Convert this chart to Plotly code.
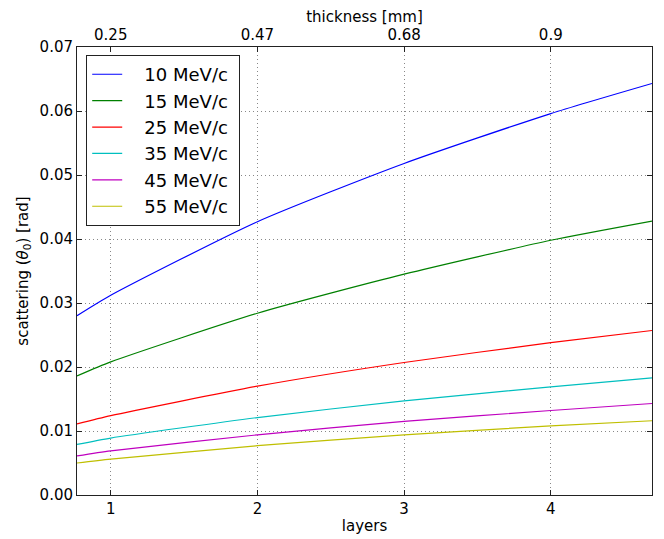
import plotly.graph_objects as go

layers = [0.77, 1.0, 2.0, 3.0, 4.0, 4.69]
momenta = ["10 MeV/c", "15 MeV/c", "25 MeV/c", "35 MeV/c", "45 MeV/c", "55 MeV/c"]
theta_10 = [0.0280, 0.0312, 0.0427, 0.0518, 0.0596, 0.0643]
theta_15 = [0.0186, 0.0208, 0.0284, 0.0345, 0.0398, 0.0428]
theta_25 = [0.0111, 0.0124, 0.0170, 0.0207, 0.0238, 0.0257]
theta_35 = [0.0079, 0.0089, 0.0121, 0.0147, 0.0169, 0.0183]
theta_45 = [0.0061, 0.0069, 0.0094, 0.0115, 0.0132, 0.0143]
theta_55 = [0.0050, 0.0056, 0.0077, 0.0094, 0.0108, 0.0116]
series = [theta_10, theta_15, theta_25, theta_35, theta_45, theta_55]
colors = ["#0000ff", "#008000", "#ff0000", "#00bfbf", "#bf00bf", "#bfbf00"]

top_tickvals = [1, 2, 3, 4]
top_ticktext = ["0.25", "0.47", "0.68", "0.9"]

FONT = "DejaVu Sans"
NB = "\u00a0"
fig = go.Figure()
for name, ys, c in zip(momenta, series, colors):
    fig.add_trace(go.Scatter(x=layers, y=ys, mode="lines", name=NB * 3 + name + NB,
                             line=dict(color=c, width=1.2, shape="spline", smoothing=0.6)))
# invisible trace to anchor the top axis
fig.add_trace(go.Scatter(x=layers, y=theta_10, xaxis="x2", mode="lines",
                         line=dict(width=0), showlegend=False, hoverinfo="skip", opacity=0))

axis_common = dict(showline=True, linecolor="#222", linewidth=1, ticks="inside",
                   ticklen=5, tickcolor="#222", automargin=False,
                   tickfont=dict(family=FONT, size=15, color="black"),
                   zeroline=False)
grid = dict(showgrid=True, gridcolor="#888", griddash="1px,3px", gridwidth=1)
fig.update_layout(
    width=656, height=531,
    margin=dict(l=69, r=12, t=39, b=44),
    paper_bgcolor="white", plot_bgcolor="white",
    font=dict(family=FONT, size=15, color="black"),
    xaxis=dict(range=[0.77, 4.69], tickvals=[1, 2, 3, 4], mirror=True,
               title=dict(text="layers", font=dict(family=FONT, size=15), standoff=3),
               **grid, **axis_common),
    xaxis2=dict(range=[0.77, 4.69], overlaying="x", side="top",
                tickvals=top_tickvals, ticktext=top_ticktext, showgrid=False,
                title=dict(text="thickness [mm]", font=dict(family=FONT, size=15), standoff=1),
                **axis_common),
    yaxis=dict(range=[0, 0.07], dtick=0.01, tickformat=".2f", mirror="ticks",
               title=dict(text="scattering (<i>θ</i><sub>0</sub>) [rad]",
                          font=dict(family=FONT, size=15), standoff=7),
               **grid, **axis_common),
    legend=dict(x=0.016, y=0.982, xanchor="left", yanchor="top",
                bgcolor="white", bordercolor="#222", borderwidth=1,
                font=dict(family=FONT, size=18, color="black")),
    showlegend=True,
)
fig.write_html("out.html")
